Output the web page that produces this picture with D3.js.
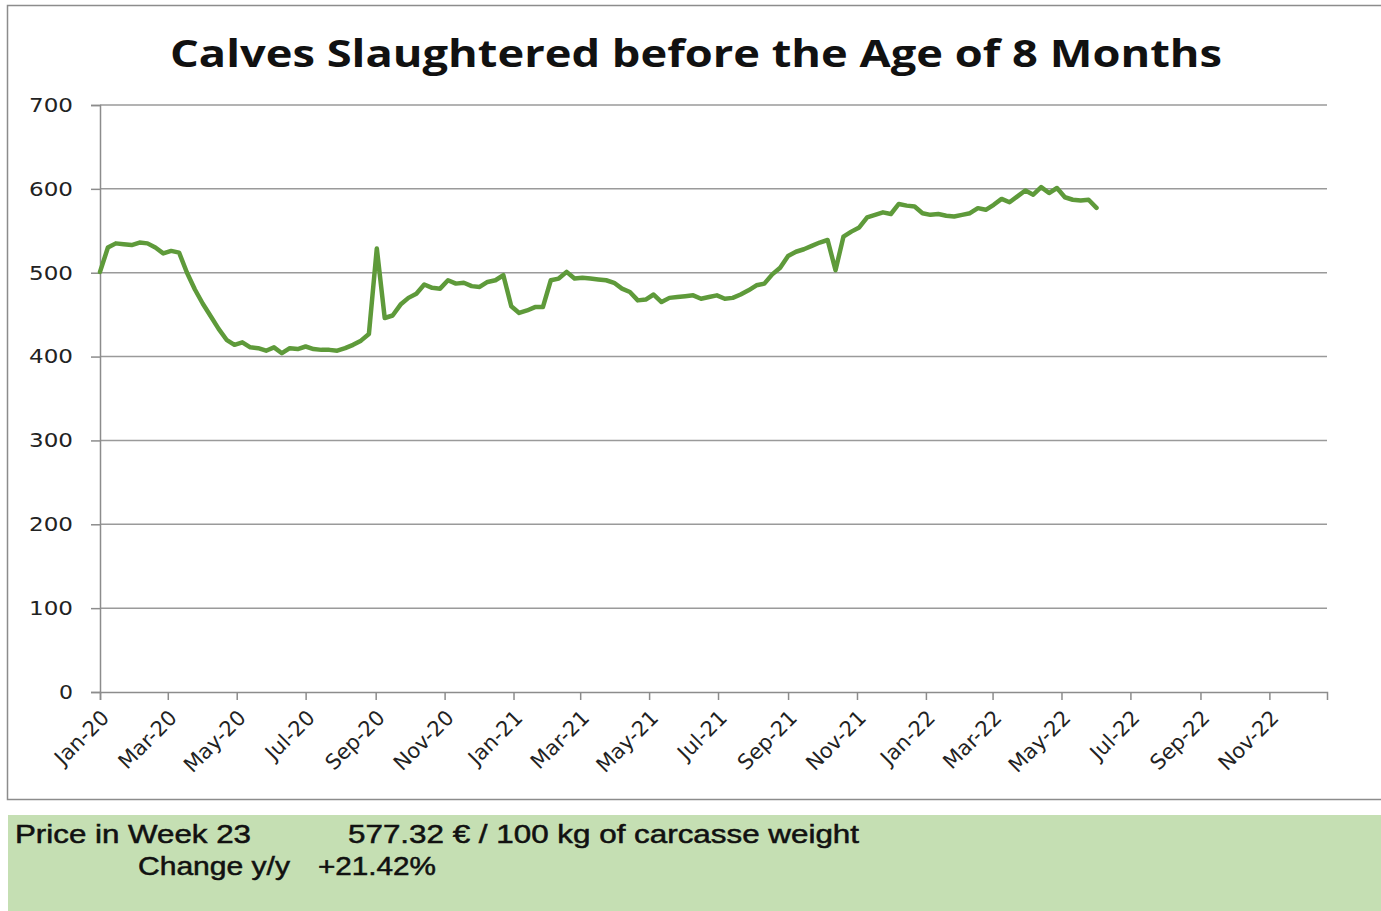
<!DOCTYPE html>
<html><head><meta charset="utf-8">
<script src="https://cdn.jsdelivr.net/npm/d3@7"></script>
<style>
html,body{margin:0;padding:0;background:#fff;}
svg{display:block;}
</style></head>
<body>
<svg id="chart" width="1381" height="911"></svg>
<script>
const title = "Calves Slaughtered before the Age of 8 Months";
const firstWeek = "2020-01-01";
const prices = [
501,530,535,534,533,536,535,530,523,526,524,500,480,463,448,433,420,414,417,411,
410,407,411,404,410,409,412,409,408,408,407,410,414,419,427,529,446,449,462,470,
475,486,482,481,491,487,488,484,483,489,491,497,460,452,455,459,459,491,493,501,
493,494,493,492,491,488,481,477,467,468,474,465,470,471,472,473,469,471,473,469,
470,474,479,485,487,498,506,520,525,528,532,536,539,503,543,549,554,566,569,572,
570,582,580,579,571,569,570,568,567,569,571,577,575,581,588,584,591,598,593,602,
595,601,590,587,586,587,577.32];
const yTicks = [0,100,200,300,400,500,600,700];
const xTickLabels = ["Jan-20","Mar-20","May-20","Jul-20","Sep-20","Nov-20","Jan-21","Mar-21","May-21","Jul-21","Sep-21","Nov-21","Jan-22","Mar-22","May-22","Jul-22","Sep-22","Nov-22"];
const xDomain = ["2020-01-01","2022-12-22"];
const infoRow1 = ["Price in Week 23","577.32 € / 100 kg of carcasse weight"];
const infoRow2 = ["Change y/y","+21.42%"];

const svg = d3.select("#chart");
const parse = d3.utcParse("%Y-%m-%d");
const parseTick = d3.utcParse("%b-%y");
const start = parse(firstWeek);
const data = prices.map((v,i)=>({date:d3.utcDay.offset(start, 7*i), value:v}));

const x = d3.scaleUtc().domain(xDomain.map(parse)).range([100,1327]);
const y = d3.scaleLinear().domain([0,700]).range([692,105]);

// outer frame
svg.append("rect").attr("x",7.5).attr("y",5.5).attr("width",1380).attr("height",794)
  .attr("fill","#fff").attr("stroke","#8c8c8c").attr("stroke-width",1.5);

// title
svg.append("text").attr("x",696).attr("y",67).attr("text-anchor","middle")
  .attr("font-family","'Open Sans', 'DejaVu Sans', sans-serif").attr("font-weight","bold")
  .attr("font-size",37).attr("fill","#111")
  .attr("textLength",1052).attr("lengthAdjust","spacingAndGlyphs").text(title);

// gridlines
svg.append("g").selectAll("line").data(yTicks.filter(d=>d>0)).join("line")
  .attr("x1",100).attr("x2",1327).attr("y1",d=>y(d)).attr("y2",d=>y(d))
  .attr("stroke","#9a9a9a").attr("stroke-width",1.5);

// y axis
const yAxis = svg.append("g").attr("transform","translate(100,0)")
  .call(d3.axisLeft(y).tickValues(yTicks).tickSize(9).tickPadding(27).tickFormat(d3.format("d")));
yAxis.select(".domain").attr("stroke","#8c8c8c").attr("stroke-width",1.5);
yAxis.selectAll(".tick line").attr("stroke","#8c8c8c").attr("stroke-width",1.5);
yAxis.selectAll(".tick text").attr("font-family","'DejaVu Sans', sans-serif").attr("font-size",20).attr("fill","#222")
  .attr("text-anchor","end").attr("x",-27)
  .attr("textLength",d=>d===0?14:44).attr("lengthAdjust","spacingAndGlyphs");

// x axis
const xAxis = svg.append("g").attr("transform","translate(0,692)")
  .call(d3.axisBottom(x).tickValues(xTickLabels.map(parseTick)).tickSize(8).tickFormat(d3.utcFormat("%b-%y")));
xAxis.select(".domain").attr("stroke","#8c8c8c").attr("stroke-width",1.5);
xAxis.selectAll(".tick line").attr("stroke","#8c8c8c").attr("stroke-width",1.5);
xAxis.selectAll(".tick text")
  .attr("font-family","'DejaVu Sans', sans-serif").attr("font-size",21).attr("fill","#222")
  .attr("text-anchor","end").attr("dy",null).attr("y",null)
  .attr("transform","translate(10,27) rotate(-45)");

// line
svg.append("path").datum(data)
  .attr("fill","none").attr("stroke","#5e9a3a").attr("stroke-width",4.5)
  .attr("stroke-linejoin","round").attr("stroke-linecap","round")
  .attr("d", d3.line().x(d=>x(d.date)).y(d=>y(d.value)));

// info box
svg.append("rect").attr("x",8).attr("y",815).attr("width",1373).attr("height",96).attr("fill","#c5dfb3");
const info = svg.append("g").attr("font-family","'Liberation Sans', Arial, sans-serif").attr("font-size",25)
  .attr("fill","#111").attr("stroke","#111").attr("stroke-width",0.5);
info.append("text").attr("x",15).attr("y",843).attr("textLength",236).attr("lengthAdjust","spacingAndGlyphs").text(infoRow1[0]);
info.append("text").attr("x",348).attr("y",843).attr("textLength",511).attr("lengthAdjust","spacingAndGlyphs").text(infoRow1[1]);
info.append("text").attr("x",138).attr("y",875).attr("textLength",152).attr("lengthAdjust","spacingAndGlyphs").text(infoRow2[0]);
info.append("text").attr("x",318).attr("y",875).attr("textLength",118).attr("lengthAdjust","spacingAndGlyphs").text(infoRow2[1]);
</script>
</body></html>
